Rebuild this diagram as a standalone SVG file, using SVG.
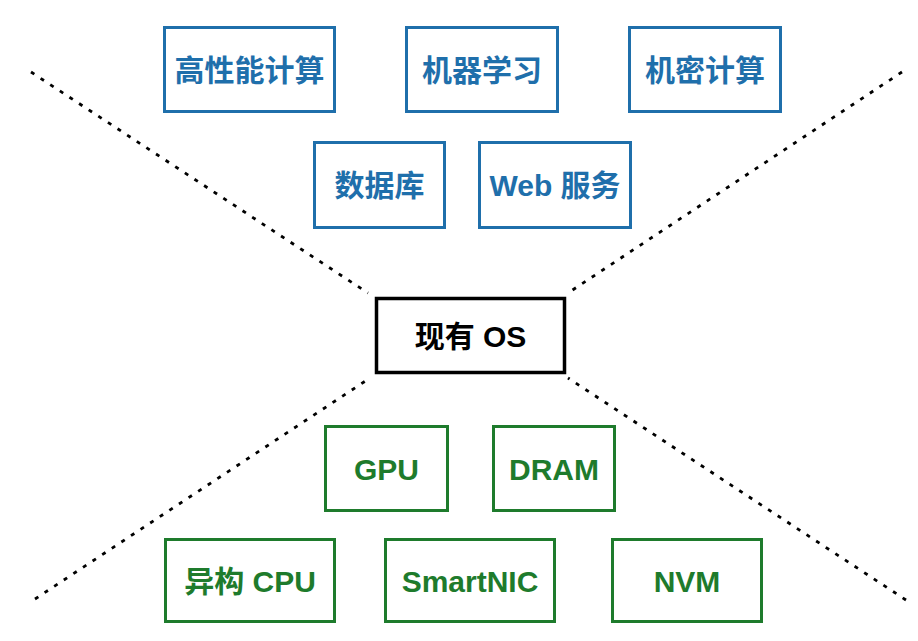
<svg xmlns="http://www.w3.org/2000/svg" width="918" height="641" viewBox="0 0 918 641">
<style>
.bg{fill:#ffffff}
.box{fill:#ffffff;stroke-width:3}
.app{stroke:#1f6fab}
.hw{stroke:#1e7b2c}
.os{stroke:#000000;stroke-width:3.5}
text{font-family:"Liberation Sans","Noto Sans CJK SC",sans-serif;font-weight:bold;font-size:30px;text-anchor:middle;dominant-baseline:central}
.tapp{fill:#1f6fab}
.thw{fill:#1e7b2c}
.tos{fill:#000000}
.conn line{stroke:#000000;stroke-width:2.8;stroke-dasharray:4 7.5;fill:none}
</style>
<rect class="bg" x="0" y="0" width="918" height="641"/>
<g id="connectors" class="conn">
<line x1="31" y1="72" x2="368" y2="293"/>
<line x1="902" y1="72" x2="568" y2="293"/>
<line x1="35" y1="599" x2="370" y2="378"/>
<line x1="906" y1="600" x2="568" y2="378"/>
</g>
<g id="node-hpc"><rect class="box app" x="164.5" y="27.5" width="170" height="84"/><text class="tapp" x="249.5" y="70">高性能计算</text></g>
<g id="node-ml"><rect class="box app" x="406.5" y="27.5" width="151" height="84"/><text class="tapp" x="482" y="70">机器学习</text></g>
<g id="node-cc"><rect class="box app" x="629.5" y="27.5" width="151" height="84"/><text class="tapp" x="705" y="70">机密计算</text></g>
<g id="node-db"><rect class="box app" x="314.5" y="142.5" width="130" height="85"/><text class="tapp" x="379.5" y="185">数据库</text></g>
<g id="node-web"><rect class="box app" x="479.5" y="142.5" width="151" height="85"/><text class="tapp" x="555" y="185">Web 服务</text></g>
<g id="node-os"><rect class="box os" x="376.5" y="298.5" width="188" height="74"/><text class="tos" x="470.5" y="336">现有 OS</text></g>
<g id="node-gpu"><rect class="box hw" x="325.5" y="426.5" width="122" height="84"/><text class="thw" x="386.5" y="469">GPU</text></g>
<g id="node-dram"><rect class="box hw" x="493.5" y="426.5" width="121" height="84"/><text class="thw" x="554" y="469">DRAM</text></g>
<g id="node-hcpu"><rect class="box hw" x="165.5" y="539.5" width="169" height="82"/><text class="thw" x="250" y="581">异构 CPU</text></g>
<g id="node-nic"><rect class="box hw" x="385.5" y="539.5" width="169" height="82"/><text class="thw" x="470" y="581">SmartNIC</text></g>
<g id="node-nvm"><rect class="box hw" x="612.5" y="539.5" width="149" height="82"/><text class="thw" x="687" y="581">NVM</text></g>
</svg>
